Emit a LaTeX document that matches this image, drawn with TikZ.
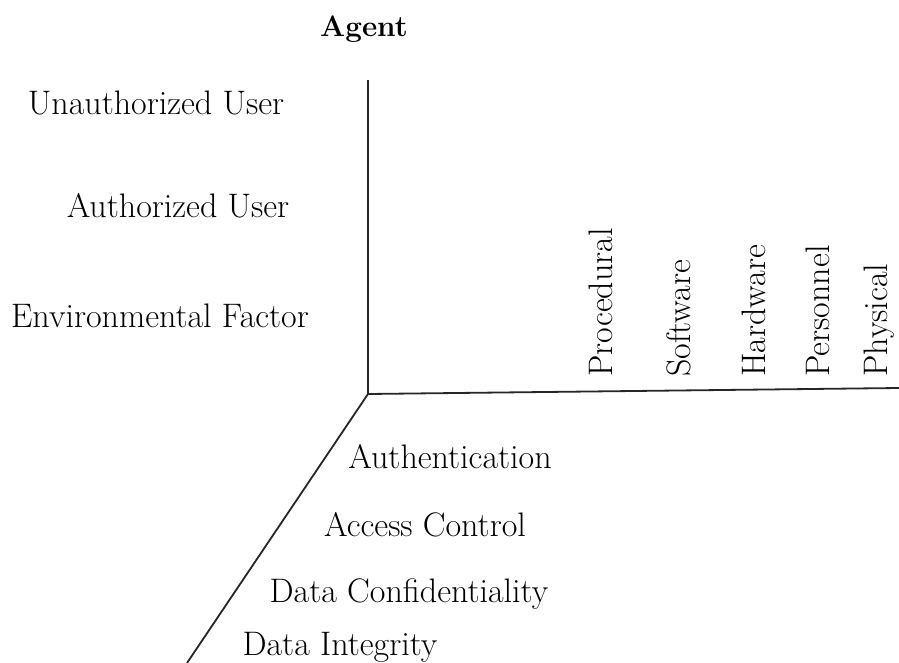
\documentclass[tikz,border=0pt]{standalone}
\begin{document}
\begin{tikzpicture}[x=0.5pt, y=-0.5pt,
    every node/.style={font=\fontsize{17}{20}\selectfont, inner sep=0pt},
    axe/.style={line width=0.9pt, black!85},
    etiquette/.style={anchor=base},
    verticale/.style={rotate=90, anchor=base west}]
    \useasboundingbox (0,0) rectangle (899,663);

    % Axes
    \coordinate (origine) at (368,394);
    \coordinate (haut) at (368,80);
    \coordinate (droite) at (899,388);
    \coordinate (bas) at (187,663);
    \draw[axe] (origine) -- (haut);
    \draw[axe] (origine) -- (droite);
    \draw[axe] (origine) -- (bas);

    % Axe vertical : agents
    \node[etiquette, font=\fontsize{14.8}{17}\selectfont\bfseries] (agent) at (364,37) {Agent};
    \node[etiquette] (nonautorise) at (156,115) {Unauthorized User};
    \node[etiquette] (autorise) at (178,218) {Authorized User};
    \node[etiquette] (environnement) at (160,328) {Environmental Factor};

    % Axe horizontal : vecteurs
    \node[verticale] (procedural) at (612,377) {Procedural};
    \node[verticale] (logiciel) at (690,377) {Software};
    \node[verticale] (materiel) at (765,377) {Hardware};
    \node[verticale] (personnel) at (829,377) {Personnel};
    \node[verticale] (physique) at (887,377) {Physical};

    % Axe oblique : services
    \node[etiquette] (authentification) at (450,468) {Authentication};
    \node[etiquette] (acces) at (425,536) {Access Control};
    \node[etiquette] (confidentialite) at (409,602) {Data Confidentiality};
    \node[etiquette] (integrite) at (340,655) {Data Integrity};
\end{tikzpicture}
\end{document}
